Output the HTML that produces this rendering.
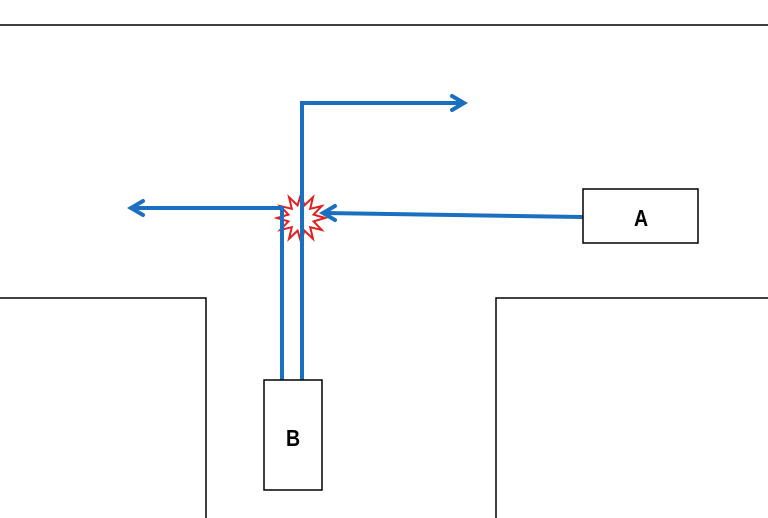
<!DOCTYPE html>
<html><head><meta charset="utf-8"><style>
html,body{margin:0;padding:0;background:#fff;}
svg{display:block;}
</style></head><body>
<svg width="768" height="518" viewBox="0 0 768 518" xmlns="http://www.w3.org/2000/svg">
<rect width="768" height="518" fill="#fff"/>
<line x1="0" y1="25" x2="768" y2="25" stroke="#000" stroke-width="1.5"/>
<polyline points="0,298 206,298 206,518" fill="none" stroke="#000" stroke-width="1.5"/>
<polyline points="768,298 496,298 496,518" fill="none" stroke="#000" stroke-width="1.5"/>
<polygon points="325,218 313.6,214.6 321.8,206 310.2,208.8 313,197.2 304.4,205.4 301,194 297.6,205.4 289,197.2 291.8,208.8 280.2,206 288.4,214.6 277,218 288.4,221.4 280.2,230 291.8,227.2 289,238.8 297.6,230.6 301,242 304.4,230.6 313,238.8 310.2,227.2 321.8,230 313.6,221.4" fill="#fff" stroke="#e02020" stroke-width="2"/>
<g stroke="#1a6fbf" stroke-width="4" fill="none" stroke-linecap="round" stroke-linejoin="miter">
<polyline points="302,380 302,103 463,103"/>
<polyline points="452,96 464,103 452,110"/>
<polyline points="282,380 282,208 132,208"/>
<polyline points="143,201 131,208 143,215"/>
<line x1="582" y1="217" x2="324" y2="213"/>
<polyline points="335,206 323,213 335,220"/>
</g>
<rect x="583" y="189" width="115" height="54" fill="#fff" stroke="#000" stroke-width="1.5"/>
<text transform="translate(641,226) scale(0.85,1)" font-family="Liberation Sans, sans-serif" font-weight="bold" font-size="23" text-anchor="middle">A</text>
<rect x="264" y="380" width="58" height="110" fill="#fff" stroke="#000" stroke-width="1.5"/>
<text transform="translate(293,446) scale(0.85,1)" font-family="Liberation Sans, sans-serif" font-weight="bold" font-size="23" text-anchor="middle">B</text>
</svg>
</body></html>
